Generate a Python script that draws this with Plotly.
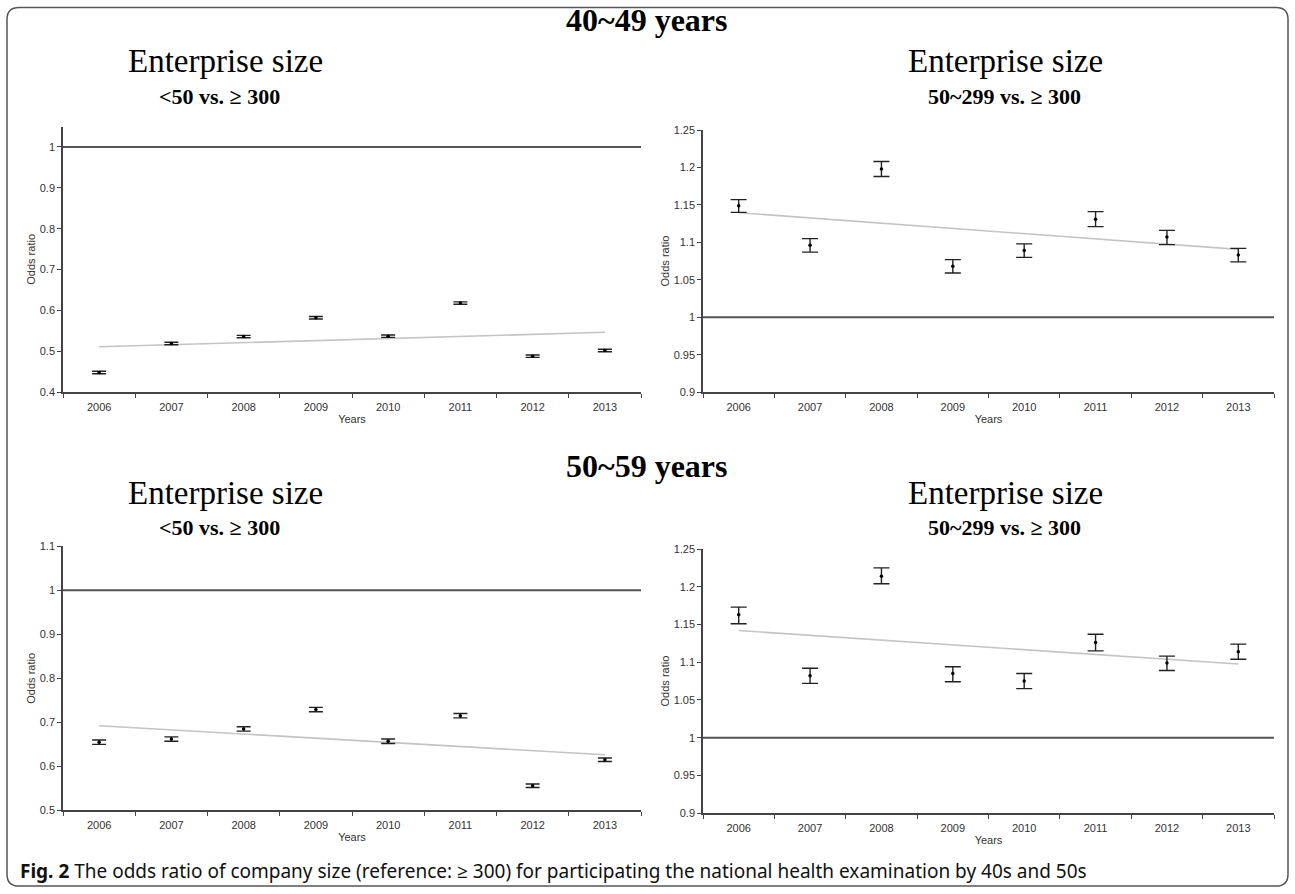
import numpy as np
import plotly.graph_objects as go

W, H = 1295, 894

years = ["2006", "2007", "2008", "2009", "2010", "2011", "2012", "2013"]

# 40~49 years, <50 vs >=300
tl_or = [0.448, 0.519, 0.536, 0.582, 0.537, 0.618, 0.488, 0.502]
tl_lo = [0.445, 0.516, 0.533, 0.579, 0.534, 0.615, 0.485, 0.499]
tl_hi = [0.451, 0.522, 0.539, 0.585, 0.540, 0.621, 0.491, 0.505]

# 40~49 years, 50~299 vs >=300
tr_or = [1.149, 1.096, 1.198, 1.068, 1.089, 1.131, 1.107, 1.083]
tr_lo = [1.140, 1.087, 1.188, 1.059, 1.080, 1.121, 1.097, 1.074]
tr_hi = [1.157, 1.105, 1.208, 1.077, 1.098, 1.141, 1.116, 1.092]

# 50~59 years, <50 vs >=300
bl_or = [0.655, 0.662, 0.685, 0.729, 0.657, 0.715, 0.556, 0.615]
bl_lo = [0.650, 0.657, 0.680, 0.724, 0.652, 0.710, 0.552, 0.611]
bl_hi = [0.660, 0.667, 0.690, 0.734, 0.662, 0.720, 0.560, 0.619]

# 50~59 years, 50~299 vs >=300
br_or = [1.163, 1.082, 1.214, 1.085, 1.075, 1.126, 1.099, 1.114]
br_lo = [1.151, 1.072, 1.204, 1.074, 1.065, 1.115, 1.089, 1.104]
br_hi = [1.173, 1.092, 1.225, 1.094, 1.085, 1.137, 1.108, 1.124]

panels = [
    # (or, lo, hi, axis suffix, x px [l, r], y px [top, bottom], y range, dtick, cap)
    (tl_or, tl_lo, tl_hi, "", (63, 641), (122.2, 391.4), (0.4, 1.05), 0.1, 7),
    (tr_or, tr_lo, tr_hi, "2", (703, 1274), (125.7, 391.4), (0.9, 1.25), 0.05, 8),
    (bl_or, bl_lo, bl_hi, "3", (63, 641), (547.6, 815.3), (0.5, 1.1), 0.1, 7),
    (br_or, br_lo, br_hi, "4", (703, 1274), (550.4, 818.1), (0.9, 1.25), 0.05, 8),
]

AX = "#444444"
TXT = "#333333"
SANS = "Liberation Sans, Arial, sans-serif"
SERIF = "Liberation Serif, Times New Roman, serif"

fig = go.Figure()
layout = dict(
    width=W, height=H, margin=dict(l=0, r=0, t=0, b=0),
    paper_bgcolor="white", plot_bgcolor="white", showlegend=False,
)
shapes = []

for vals, lo, hi, s, xp, yp, yr, dt, cap in panels:
    xa = "x" + s
    ya = "y" + s
    idx = np.arange(len(vals))
    coef = np.polyfit(idx, vals, 1)
    trend = np.polyval(coef, idx)
    fig.add_trace(go.Scatter(
        x=years, y=trend, mode="lines", xaxis=xa, yaxis=ya,
        line=dict(color="#c4c4c4", width=1.6), hoverinfo="skip"))
    fig.add_trace(go.Scatter(
        x=years, y=vals, mode="markers", xaxis=xa, yaxis=ya,
        marker=dict(color="black", size=3.5),
        error_y=dict(type="data", symmetric=False,
                     array=[h - v for h, v in zip(hi, vals)],
                     arrayminus=[v - l for v, l in zip(vals, lo)],
                     color="#222222", thickness=1.4, width=cap)))
    xkey = "xaxis" + s
    ykey = "yaxis" + s
    layout[xkey] = dict(
        domain=[xp[0] / W, xp[1] / W], anchor=ya, type="category",
        range=[-0.5, 7.5], tickson="boundaries", ticks="outside", ticklen=4,
        tickwidth=1.3, tickcolor=AX, showline=True, linecolor=AX, linewidth=1.5,
        showgrid=False, zeroline=False, ticklabelstandoff=4,
        tickfont=dict(family=SANS, size=11, color=TXT),
        title=dict(text="Years", font=dict(family=SANS, size=11, color=TXT), standoff=3),
    )
    layout[ykey] = dict(
        domain=[1 - yp[1] / H, 1 - yp[0] / H], anchor=xa,
        range=list(yr), dtick=dt, tick0=0, ticks="outside", ticklen=4,
        tickwidth=1.3, tickcolor=AX, showline=True, linecolor=AX, linewidth=1.5,
        showgrid=False, zeroline=False,
        tickfont=dict(family=SANS, size=11, color=TXT),
        title=dict(text="Odds ratio", font=dict(family=SANS, size=11, color=TXT), standoff=2),
    )
    shapes.append(dict(type="line", xref=xa + " domain", yref=ya,
                       x0=0, x1=1, y0=1, y1=1,
                       line=dict(color="#555555", width=2)))

# rounded border
l, r, t, b = 7 / W, 1288 / W, 1 - 1.5 / H, 1 - 892 / H
rx, ry = 12 / W, 12 / H
path = (f"M {l+rx},{t} L {r-rx},{t} Q {r},{t} {r},{t-ry} L {r},{b+ry} "
        f"Q {r},{b} {r-rx},{b} L {l+rx},{b} Q {l},{b} {l},{b+ry} "
        f"L {l},{t-ry} Q {l},{t} {l+rx},{t} Z")
shapes.append(dict(type="path", xref="paper", yref="paper", path=path,
                   line=dict(color="#555555", width=1.5)))
layout["shapes"] = shapes


def ann(text, xpx, ypx, size, family=SERIF, bold=False, xanchor="center", color="black"):
    return dict(text=f"<b>{text}</b>" if bold else text, x=xpx / W, y=1 - ypx / H,
                xref="paper", yref="paper", showarrow=False, xanchor=xanchor,
                yanchor="middle", font=dict(family=family, size=size, color=color))


annotations = [
    ann("40~49 years", 647, 14.5, 32, bold=True),
    ann("Enterprise size", 225, 56, 33),
    ann("Enterprise size", 1005, 56, 33),
    ann("&lt;50 vs. ≥ 300", 219, 92, 22, bold=True),
    ann("50~299 vs. ≥ 300", 1004, 92, 22, bold=True),
    ann("50~59 years", 647, 466.5, 32, bold=True),
    ann("Enterprise size", 225, 494, 33),
    ann("Enterprise size", 1005, 494, 33),
    ann("&lt;50 vs. ≥ 300", 219, 529, 22, bold=True),
    ann("50~299 vs. ≥ 300", 1004, 529, 22, bold=True),
    ann("<b>Fig. 2</b> The odds ratio of company size (reference: ≥ 300) for participating "
        "the national health examination by 40s and 50s",
        18, 877, 19, family="Noto Sans, Open Sans, sans-serif", xanchor="left", color="#111111"),
]
layout["annotations"] = annotations

fig.update_layout(**layout)
post = (
    "document.documentElement.style.margin='0';"
    "document.documentElement.style.overflow='hidden';"
    "document.body.style.margin='0';"
    "document.body.style.overflow='hidden';"
    "var gd=document.getElementById('{plot_id}');"
    "gd.style.position='fixed';gd.style.top='0px';gd.style.left='0px';"
)
fig.write_html("out.html", config={"displayModeBar": False}, post_script=post)
